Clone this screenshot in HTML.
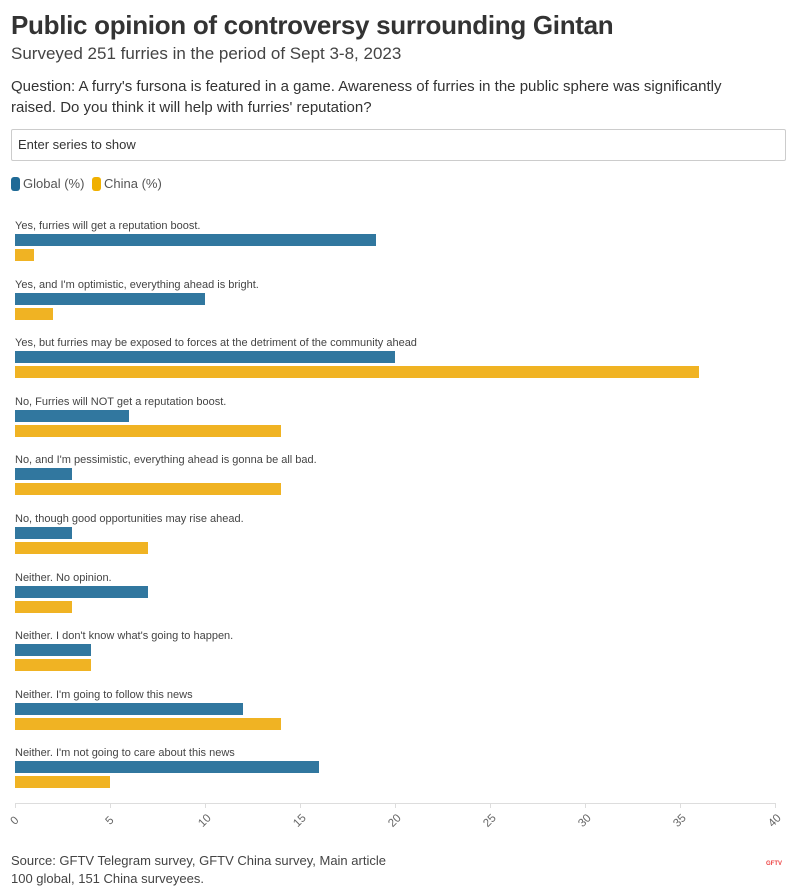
<!DOCTYPE html><html><head><meta charset="utf-8"><style>
body{margin:0;width:796px;height:894px;background:#fff;font-family:"Liberation Sans",sans-serif;color:#333;position:relative;overflow:hidden}
.a{position:absolute;white-space:nowrap}
.lab{position:absolute;left:15px;font-size:11px;color:#444}
.b{position:absolute;left:15px;height:12px;background:#31779f}
.y{position:absolute;left:15px;height:12px;background:#f0b323}
.t{position:absolute;top:815px;font-size:11.5px;color:#666;transform:rotate(-45deg);transform-origin:center}
.tk{position:absolute;top:803px;width:1px;height:5px;background:#ddd}
</style></head><body>
<div class="a" style="left:11px;top:10px;font-size:26px;font-weight:bold;color:#333;letter-spacing:-0.3px">Public opinion of controversy surrounding Gintan</div>
<div class="a" style="left:11px;top:44px;font-size:17px;color:#444">Surveyed 251 furries in the period of Sept 3-8, 2023</div>
<div class="a" style="left:11px;top:76px;font-size:15px;color:#333;line-height:21px;white-space:normal;width:755px">Question: A furry's fursona is featured in a game. Awareness of furries in the public sphere was significantly raised. Do you think it will help with furries' reputation?</div>
<div class="a" style="left:11px;top:129px;width:773px;height:30px;border:1px solid #ccc;border-radius:2px"></div>
<div class="a" style="left:18px;top:137px;font-size:13px;color:#333">Enter series to show</div>
<div class="a" style="left:11px;top:177px;width:9px;height:14px;background:#1f6a96;border-radius:3px"></div>
<div class="a" style="left:23px;top:176px;font-size:13px;color:#555">Global (%)</div>
<div class="a" style="left:92px;top:177px;width:9px;height:14px;background:#f0b000;border-radius:3px"></div>
<div class="a" style="left:104px;top:176px;font-size:13px;color:#555">China (%)</div>
<div id="c"></div>
<div class="a" style="left:15px;top:803px;width:761px;height:1px;background:#ddd"></div>
<div id="ax"></div>
<div class="a" style="left:11px;top:852px;font-size:13px;color:#444;line-height:18px">Source: GFTV Telegram survey, GFTV China survey, Main article<br>100 global, 151 China surveyees.</div>
<div class="a" style="left:766px;top:861px;font-size:6px;font-weight:bold;color:#e44">GFTV</div>
<script>
var d=[["Yes, furries will get a reputation boost.",19,1],["Yes, and I'm optimistic, everything ahead is bright.",10,2],["Yes, but furries may be exposed to forces at the detriment of the community ahead",20,36],["No, Furries will NOT get a reputation boost.",6,14],["No, and I'm pessimistic, everything ahead is gonna be all bad.",3,14],["No, though good opportunities may rise ahead.",3,7],["Neither. No opinion.",7,3],["Neither. I don't know what's going to happen.",4,4],["Neither. I'm going to follow this news",12,14],["Neither. I'm not going to care about this news",16,5]];
var h="";d.forEach(function(r,i){var t=219+i*58.6;h+='<div class="lab" style="top:'+(t+1)+'px">'+r[0].replace(/'/g,"&#39;")+'</div><div class="b" style="top:'+(t+15)+'px;width:'+(r[1]*19)+'px"></div><div class="y" style="top:'+(t+30)+'px;width:'+(r[2]*19)+'px"></div>';});
document.getElementById("c").innerHTML=h;
var a="";for(var v=0;v<=40;v+=5){var x=15+v*19;a+='<div class="tk" style="left:'+x+'px"></div><div class="t" style="left:'+(x-8)+'px;width:16px;text-align:center">'+v+'</div>';}
document.getElementById("ax").innerHTML=a;
</script>
</body></html>
